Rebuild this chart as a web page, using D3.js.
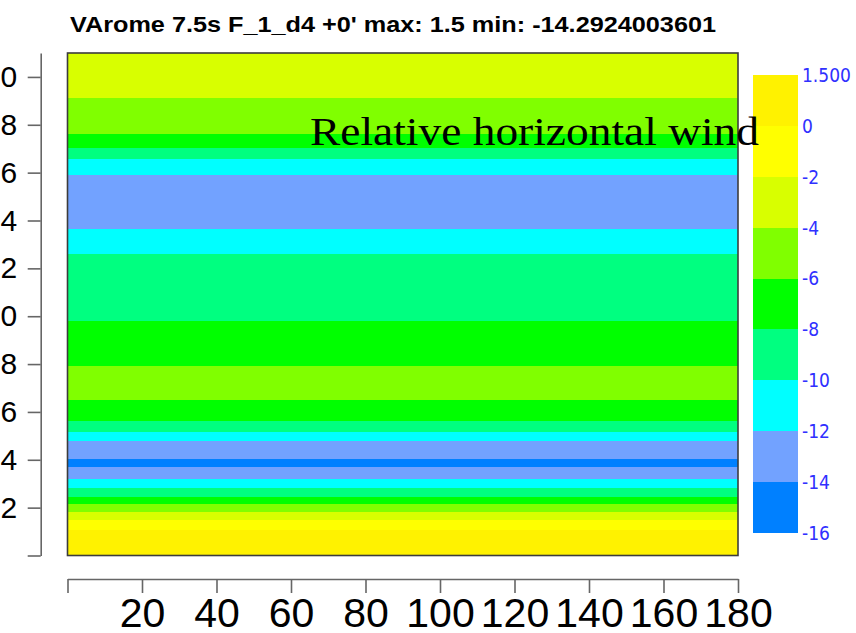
<!DOCTYPE html>
<html>
<head>
<meta charset="utf-8">
<script src="https://cdn.jsdelivr.net/npm/d3@7"></script>
<style>
  html, body { margin: 0; padding: 0; background: #fff; }
  svg { display: block; }
</style>
</head>
<body>
<svg id="chart" width="856" height="633"></svg>
<script>
// Vertical profile of relative horizontal wind: band edges (axis units, top→bottom)
// and the value held inside each band. The field is uniform along x.
const levelEdges = [21, 19.12, 17.60, 17.02, 16.56, 15.91, 13.63, 12.60, 9.80, 7.92,
                    6.50, 5.62, 5.17, 4.78, 4.03, 3.69, 3.20, 2.81, 2.46, 2.15,
                    1.81, 1.48, 1.07, 0];
const windValues = [-3, -5, -7, -9, -11, -13, -11, -9, -7, -5,
                    -7, -9, -11, -13, -14.29, -13, -11, -9, -7, -5,
                    -3, -1, 1.5];
const xExtent = [0, 180];

// Contour classes and palette
const contourLevels = [-14, -12, -10, -8, -6, -4, -2, 0];
const palette = ["#0080ff", "#72a2ff", "#00ffff", "#00ff80", "#00ff00",
                 "#80ff00", "#d8ff00", "#ffff00", "#fff200"];
const colorbarLabels = ["1.500", "0", "-2", "-4", "-6", "-8", "-10", "-12", "-14", "-16"];
const colorbarValues = [1.5, 0, -2, -4, -6, -8, -10, -12, -14, -16];

// Axis ticks
const yTicks = [0, 2, 4, 6, 8, 10, 12, 14, 16, 18, 20];
const xTicks = [0, 20, 40, 60, 80, 100, 120, 140, 160, 180];

const titleText = "VArome 7.5s F_1_d4 +0' max: 1.5 min: -14.2924003601";
const fieldName = "Relative horizontal wind";

const svg = d3.select("#chart");

const x = d3.scaleLinear().domain([0, 180]).range([67.5, 738]);
const y = d3.scaleLinear().domain([0, 21]).range([555.5, 53]);
const color = d3.scaleThreshold().domain(contourLevels).range(palette);

// Filled bands
const bands = windValues.map((v, i) => ({ top: levelEdges[i], bottom: levelEdges[i + 1], value: v }));
svg.append("g")
  .selectAll("rect")
  .data(bands)
  .join("rect")
  .attr("x", x(xExtent[0]))
  .attr("width", x(xExtent[1]) - x(xExtent[0]))
  .attr("y", d => y(d.top))
  .attr("height", d => y(d.bottom) - y(d.top))
  .attr("fill", d => color(d.value))
  .attr("shape-rendering", "crispEdges");

// Plot frame
svg.append("rect")
  .attr("x", x(0))
  .attr("y", y(21))
  .attr("width", x(180) - x(0))
  .attr("height", y(0) - y(21))
  .attr("fill", "none")
  .attr("stroke", "#3c3c3c")
  .attr("stroke-width", 1.6);

// Left axis (offset from the plot)
const yAxis = d3.axisLeft(y)
  .tickValues(yTicks)
  .tickFormat(d => d === 0 ? "" : d)
  .tickSize(13)
  .tickSizeOuter(0)
  .tickPadding(10.5);
const gy = svg.append("g").attr("transform", "translate(40.7,0)").call(yAxis);
gy.selectAll("path, line").attr("stroke", "#666").attr("stroke-width", 1.6);
gy.selectAll("text")
  .attr("font-family", "Liberation Sans, Arial, sans-serif")
  .attr("font-size", 30)
  .attr("fill", "#000");

// Bottom axis
const xAxis = d3.axisBottom(x)
  .tickValues(xTicks)
  .tickFormat(d => d === 0 ? "" : d)
  .tickSize(14)
  .tickSizeOuter(0)
  .tickPadding(5);
const gx = svg.append("g").attr("transform", "translate(0,579)").call(xAxis);
gx.selectAll("path, line").attr("stroke", "#666").attr("stroke-width", 1.6);
gx.selectAll("text")
  .attr("font-family", "Liberation Sans, Arial, sans-serif")
  .attr("font-size", 41)
  .attr("fill", "#000");

// Colour bar (equal-height class boxes)
const cb = d3.scaleLinear().domain([0, colorbarValues.length - 1]).range([75, 533]);
const cbClasses = colorbarValues.slice(0, -1).map((v, i) => ({
  i, mid: (v + colorbarValues[i + 1]) / 2
}));
svg.append("g")
  .selectAll("rect")
  .data(cbClasses)
  .join("rect")
  .attr("x", 753)
  .attr("width", 45)
  .attr("y", d => cb(d.i))
  .attr("height", d => cb(d.i + 1) - cb(d.i))
  .attr("fill", d => color(d.mid))
  .attr("shape-rendering", "crispEdges");

svg.append("g")
  .selectAll("text")
  .data(colorbarLabels)
  .join("text")
  .attr("x", 802)
  .attr("y", (d, i) => cb(i))
  .attr("dy", "0.36em")
  .attr("font-family", "DejaVu Sans Condensed, DejaVu Sans, sans-serif")
  .attr("font-size", 19)
  .attr("fill", "#3030ff")
  .text(d => d);

// Title
svg.append("text")
  .attr("x", 70)
  .attr("y", 32)
  .attr("font-family", "Liberation Sans, Arial, sans-serif")
  .attr("font-weight", "bold")
  .attr("font-size", 22)
  .attr("textLength", 646)
  .attr("lengthAdjust", "spacingAndGlyphs")
  .attr("fill", "#000")
  .text(titleText);

// Field name
svg.append("text")
  .attr("x", 310)
  .attr("y", 145)
  .attr("font-family", "Liberation Serif, Times New Roman, serif")
  .attr("font-size", 41)
  .attr("textLength", 449)
  .attr("lengthAdjust", "spacingAndGlyphs")
  .attr("fill", "#000")
  .text(fieldName);
</script>
</body>
</html>
